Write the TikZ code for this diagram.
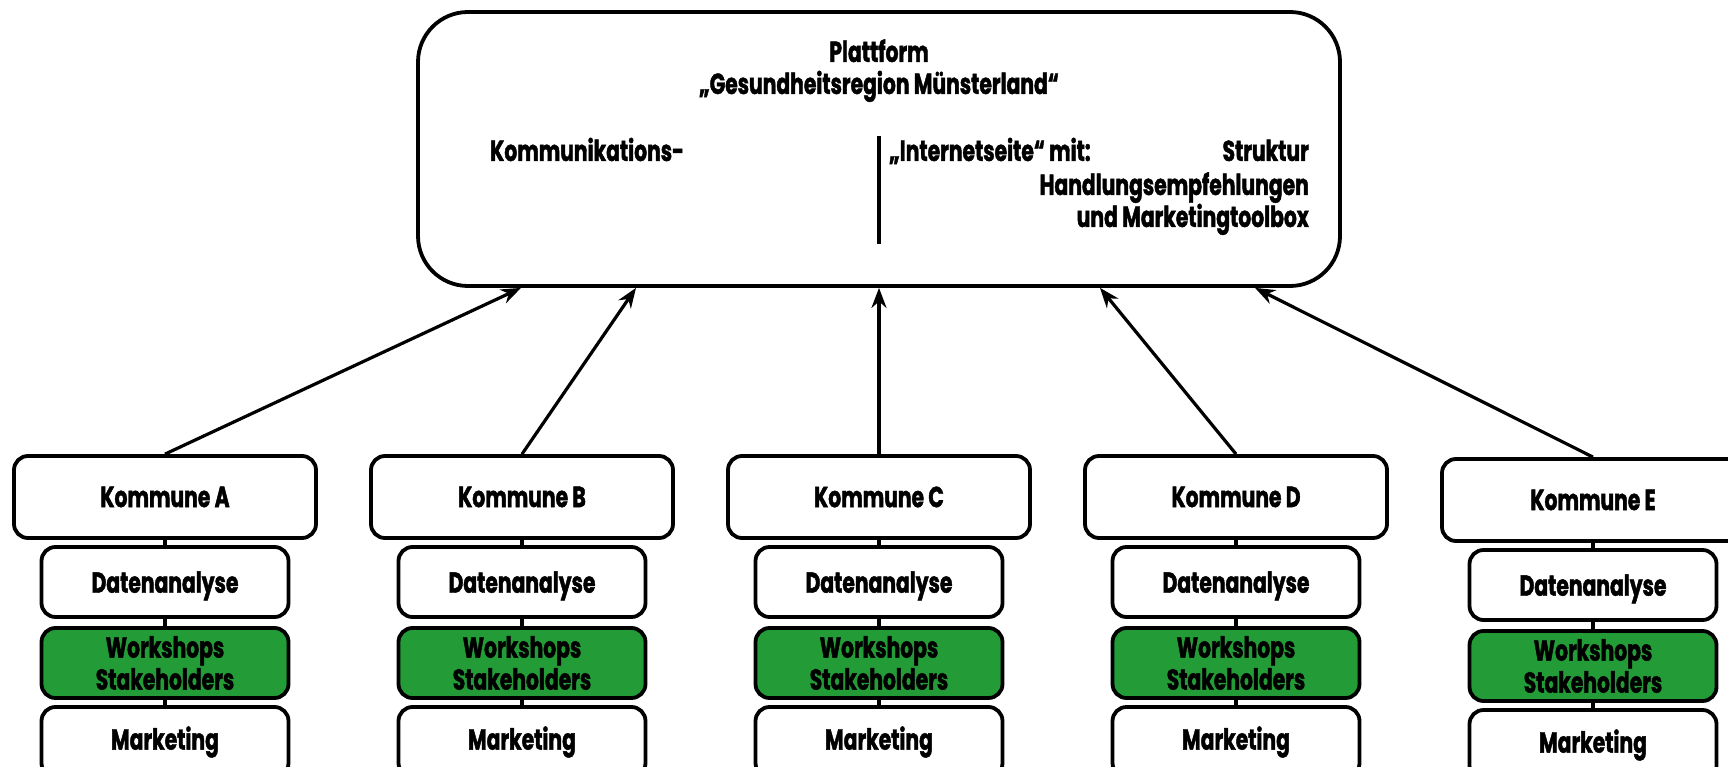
\documentclass[tikz,border=0pt]{standalone}
\usepackage{fontspec}
\setmainfont{Poppins}[FakeStretch=0.70,FakeBold=1.5]
\usetikzlibrary{arrows.meta}
\definecolor{wsgreen}{RGB}{35,155,55}
\begin{document}
\begin{tikzpicture}[x=1pt,y=-1pt,
  every node/.style={font=\fontsize{29}{32}\selectfont\bfseries},
  box/.style={draw, line width=3.8pt, rounded corners=14pt, fill=white, align=center, inner sep=0pt},
  kbox/.style={box, minimum width=302pt, minimum height=82pt},
  sbox/.style={box, minimum width=247pt, minimum height=70pt},
  gbox/.style={sbox, fill=wsgreen},
  link/.style={line width=3.2pt},
  arr/.style={line width=3.2pt, -{Stealth[length=20pt,width=15pt]}}]
\useasboundingbox (0,0) rectangle (1728,767);
\clip (0,0) rectangle (1728,767);
% platform box
\node[box, rounded corners=50pt, minimum width=922pt, minimum height=274pt] (plat) at (879,149) {};
\node[anchor=base, align=center] (title) at (879,94) {Plattform\\„Gesundheitsregion Münsterland“};
\node[anchor=base west, inner sep=0pt] (komm) at (490,161) {Kommunikations-};
\node[anchor=base west, inner sep=0pt] (inet) at (889,161) {„Internetseite“ mit:};
\node[anchor=base east, inner sep=0pt] (strk) at (1309,161) {Struktur};
\node[anchor=base east, inner sep=0pt, align=right] (hand) at (1309,227) {Handlungsempfehlungen\\und Marketingtoolbox};
\coordinate (vt) at (879,136);
\coordinate (vb) at (879,244);
\draw[link] (vt) -- (vb);
% columns
\foreach \i/\x/\dy/\tx in {A/165/0/-358, B/522/0/-243, C/879/0/0, D/1236/0/221, E/1593/3/376}{
  \node[kbox] (k\i) at (\x,497+\dy) {Kommune \i};
  \node[sbox, text depth=0pt] (d\i) at (\x,582+\dy) {Datenanalyse};
  \node[gbox] (w\i) at (\x,663+\dy) {Workshops\\Stakeholders};
  \node[sbox] (m\i) at (\x,742+\dy) {Marketing};
  \draw[link] (k\i.south) -- (d\i.north);
  \draw[link] (d\i.south) -- (w\i.north);
  \draw[link] (w\i.south) -- (m\i.north);
  \draw[arr] (k\i.north) -- ([xshift=\tx pt]plat.south);
}
\end{tikzpicture}
\end{document}
